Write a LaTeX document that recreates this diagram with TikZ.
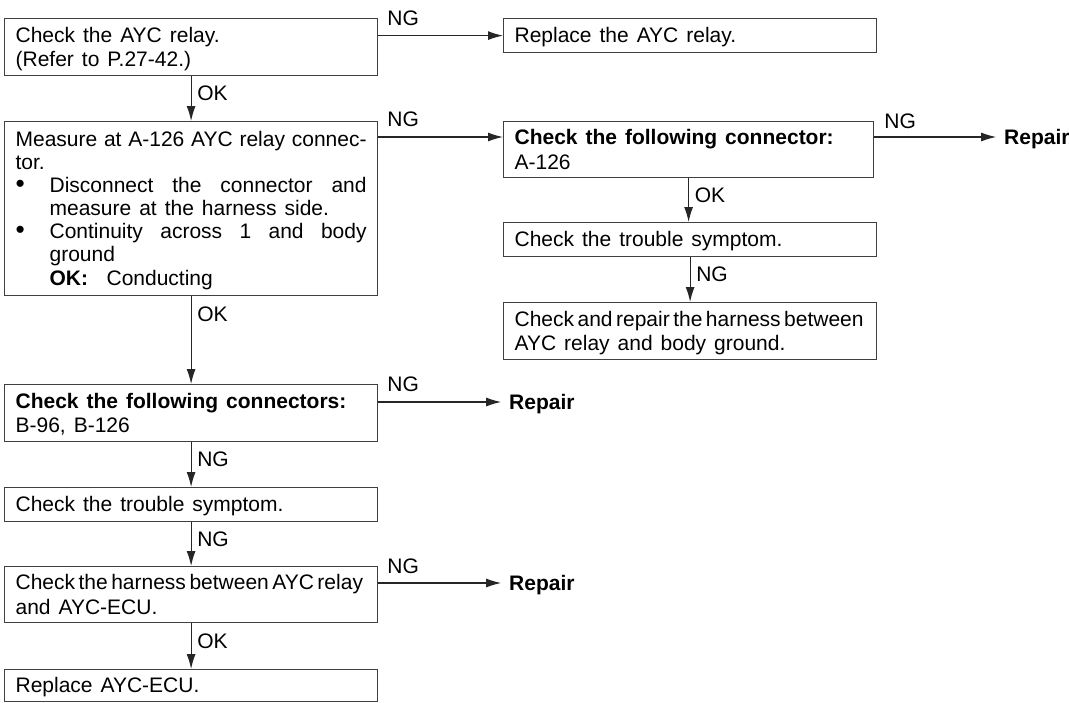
\documentclass[tikz,border=0pt]{standalone}
\usepackage{fontspec}
\setmainfont{Liberation Sans}
\usetikzlibrary{arrows.meta}
\hyphenpenalty=10000
\exhyphenpenalty=10000
\tolerance=10000
\hbadness=10000
\newcommand\mainf{\fontsize{21}{23}\selectfont}
\newcommand\ws{\spaceskip=0.38em plus 0.3em minus 0.12em\relax}
\newcommand\cnd{\spaceskip=3.5pt plus 1pt minus 1pt\relax}
\newcommand\fst{\ws\rule[-4pt]{0pt}{23pt}}
\newcommand\bul{\scalebox{1.25}{\textbullet}}
\begin{document}
\begin{tikzpicture}[x=1pt,y=-1pt,
  box/.style={draw=black!75, line width=1.2pt, anchor=north west, inner xsep=11pt, inner ysep=0pt,
    text width=351pt, align=left, font=\mainf},
  lbl/.style={inner sep=0pt, font=\mainf, text height=15pt, text depth=0pt, anchor=west},
  rep/.style={inner sep=0pt, outer xsep=8pt, anchor=west, font=\mainf\bfseries, text height=15pt, text depth=0pt},
  arr/.style={-{Latex[length=15pt,width=9pt]}, line width=1.2pt, draw=black!85}]
\useasboundingbox (0,0) rectangle (1069,702);

% left column
\node[box, minimum height=57pt] (b1) at (4,18) {\fst Check the AYC relay.\\(Refer to P.27-42.)\fst};
\node[box, align=justify, minimum height=174pt] (b3) at (4,121) {\noindent\fst Measure at A-126 AYC relay connec-\linebreak
tor.\newline
\makebox[34pt][l]{\bul}Disconnect the connector and\linebreak
\hspace*{34pt}measure at the harness side.\newline
\makebox[34pt][l]{\bul}Continuity across 1 and body\linebreak
\hspace*{34pt}ground\newline
\hspace*{34pt}\makebox[57pt][l]{\textbf{OK:}}Conducting\fst};
\node[box, minimum height=57pt] (b7) at (4,384) {\fst\textbf{Check the following connectors:}\\B-96, B-126\fst};
\node[box, minimum height=34pt] (b8) at (4,487) {\fst Check the trouble symptom.\fst};
\node[box, minimum height=56pt] (b9) at (4,566) {\fst{\cnd Check the harness between AYC relay}\\and AYC-ECU.\fst};
\node[box, minimum height=32pt] (b10) at (4,669) {\fst Replace AYC-ECU.\fst};

% right column
\node[box, minimum height=34pt] (b2) at (503,18) {\fst Replace the AYC relay.\fst};
\node[box, text width=348pt, minimum height=56pt] (b4) at (503,121) {\fst\textbf{Check the following connector:}\\A-126\fst};
\node[box, minimum height=34pt] (b5) at (503,222) {\fst Check the trouble symptom.\fst};
\node[box, minimum height=57pt] (b6) at (503,302) {\fst{\cnd Check and repair the harness between}\\AYC relay and body ground.\fst};

% repair targets
\node[rep] (rep1) at ([xshift=122pt,yshift=-16pt]b4.north east) {Repair};
\node[rep] (rep2) at ([xshift=123pt,yshift=-18pt]b7.north east) {Repair};
\node[rep] (rep3) at ([xshift=123pt,yshift=-17pt]b9.north east) {Repair};

% horizontal connectors
\draw[arr] (b2.west -| b1.east) -- (b2.west);
\draw[arr] ([yshift=-16pt]b3.north east) -- ([yshift=-16pt]b4.north west);
\draw[arr] ([yshift=-16pt]b4.north east) -- (rep1.west);
\draw[arr] ([yshift=-18pt]b7.north east) -- (rep2.west);
\draw[arr] ([yshift=-17pt]b9.north east) -- (rep3.west);

% vertical connectors
\draw[arr] (b1.south) -- (b3.north);
\draw[arr] (b3.south) -- (b7.north);
\draw[arr] (b7.south) -- (b8.north);
\draw[arr] (b8.south) -- (b9.north);
\draw[arr] (b9.south) -- (b10.north);
\draw[arr] (b4.south) -- (b4.south |- b5.north);
\draw[arr] (b5.south) -- (b6.north);

% horizontal labels
\node[lbl] (ng1) at ([xshift=9pt]b1.north east) {NG};
\node[lbl] (ng2) at ([xshift=9pt,yshift=2pt]b3.north east) {NG};
\node[lbl] (ng3) at ([xshift=10pt]b4.north east) {NG};
\node[lbl] (ng4) at ([xshift=9pt]b7.north east) {NG};
\node[lbl] (ng5) at ([xshift=9pt]b9.north east) {NG};

% vertical labels
\node[lbl] (ok1) at ([xshift=6pt,yshift=-17pt]b1.south) {OK};
\node[lbl] (ok2) at ([xshift=6pt,yshift=-18pt]b3.south) {OK};
\node[lbl] (ng6) at ([xshift=6pt,yshift=-17pt]b7.south) {NG};
\node[lbl] (ng7) at ([xshift=6pt,yshift=-17pt]b8.south) {NG};
\node[lbl] (ok3) at ([xshift=6pt,yshift=-18pt]b9.south) {OK};
\node[lbl] (ok4) at ([xshift=6pt,yshift=-17pt]b4.south) {OK};
\node[lbl] (ng8) at ([xshift=6pt,yshift=-17pt]b5.south) {NG};
\end{tikzpicture}
\end{document}
